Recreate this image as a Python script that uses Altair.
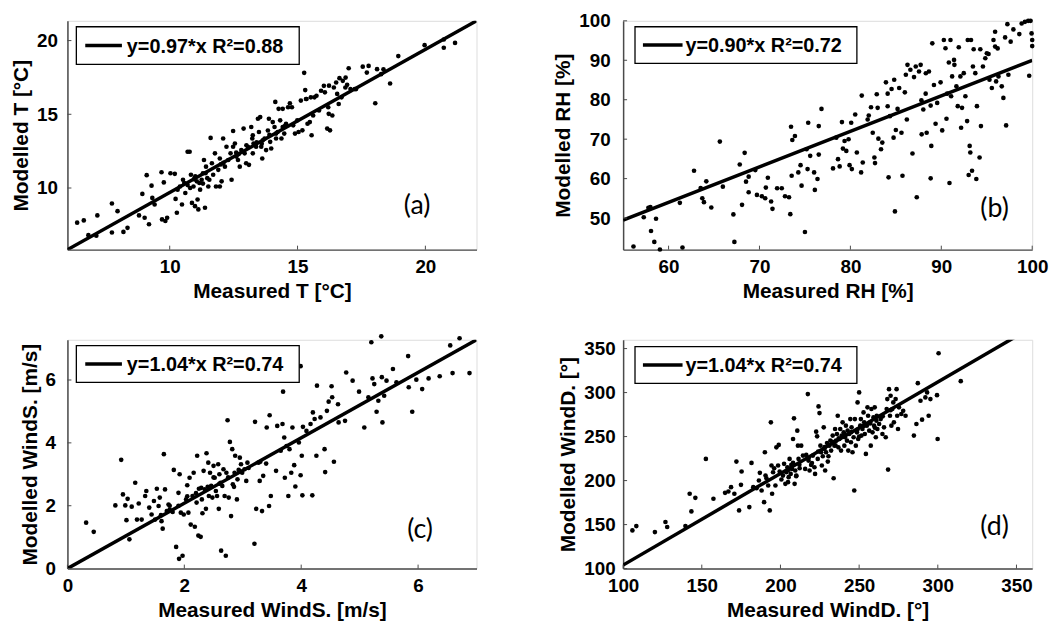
import altair as alt
import pandas as pd

FONT = "Liberation Sans"
W, H = 413, 231

# ---------------- Panel (a): temperature ----------------
a_meas = [6.38, 6.64, 6.82, 7.13, 7.17, 7.74, 7.74, 7.96, 8.19, 8.35, 8.8, 8.93, 9.02, 9.1, 9.19, 9.29, 9.32, 9.41,
          9.68, 9.7, 9.77, 9.83, 9.9, 10.03, 10.2, 10.23, 10.28, 10.31, 10.48, 10.52, 10.61, 10.7, 10.78, 10.83,
          10.87, 10.93, 10.99, 11.06, 11.09, 11.12, 11.19, 11.25, 11.34, 11.38, 11.42, 11.47, 11.51, 11.6, 11.65,
          11.7, 11.77, 11.81, 11.9, 11.96, 12.03, 12.09, 12.16, 12.22, 12.29, 12.38, 12.42, 12.48, 12.55, 12.61,
          12.67, 12.74, 12.8, 12.89, 12.93, 12.99, 13.06, 13.1, 13.19, 13.23, 13.28, 13.38, 13.45, 13.49, 13.54,
          13.58, 13.62, 13.64, 13.71, 13.77, 13.84, 13.88, 13.93, 13.97, 14.03, 14.1, 14.13, 14.16, 14.22, 14.26,
          14.32, 14.37, 14.42, 14.48, 14.55, 14.63, 14.7, 14.78, 14.83, 14.9, 14.99, 15.04, 15.13, 15.19, 15.26,
          15.3, 15.35, 15.39, 15.48, 15.55, 15.61, 15.66, 15.74, 15.84, 15.92, 16.03, 16.07, 16.16, 16.2, 16.22,
          16.27, 16.36, 16.42, 16.51, 16.55, 16.61, 16.64, 16.72, 16.77, 16.87, 16.94, 17.0, 17.07, 17.24, 17.55,
          17.71, 18.04, 18.11, 18.27, 18.62, 18.94, 19.97, 20.72, 20.72, 21.16,
          10.57, 10.8, 11.16, 11.55, 11.96, 12.48, 13.25, 14.16, 13.25, 10.4, 10.95, 11.3, 12.0, 12.7, 13.6,
          14.42, 15.33, 15.52, 16.23, 16.88, 17.29, 17.78, 18.36, 11.0, 11.4, 12.1, 12.6, 13.0, 13.4, 13.9,
          14.5, 10.7, 11.3]
a_mod = [7.65, 7.8, 6.8, 6.76, 8.14, 6.98, 8.95, 8.43, 7.02, 7.3, 8.14, 9.6, 7.98, 10.87, 7.54, 10.16, 9.33, 8.88,
         11.07, 7.87, 10.38, 7.76, 7.98, 11.0, 10.96, 9.26, 8.32, 9.89, 8.88, 10.56, 9.66, 12.46, 12.46, 10.9,
         8.99, 10.1, 8.77, 10.45, 9.22, 8.55, 9.89, 10.56, 11.9, 8.66, 11.45, 10.67, 10.1, 13.4, 11.68,
         10.9, 12.35, 10.1, 11.23, 12.0, 10.45, 13.36, 11.45, 12.8, 11.9, 12.35, 10.56, 13.87, 13.02, 12.13,
         11.9, 11.45, 12.57, 14.03, 12.35, 11.68, 12.8, 11.57, 14.14, 13.36, 13.02, 12.8, 14.7, 13.8, 14.81,
         12.8, 12.0, 13.24, 13.36, 12.57, 13.9, 14.7, 13.13, 12.68, 14.47, 14.14, 15.84, 13.36, 13.8, 15.37,
         14.59, 13.36, 14.14, 13.69, 14.36, 15.48, 15.75, 15.48, 14.25, 13.69, 14.59, 13.8, 15.93, 13.91, 17.81,
         16.64, 16.04, 14.36, 14.47, 13.58, 14.92, 16.15, 16.26, 15.26, 16.6, 16.93, 16.49, 14.03, 15.48, 15.03,
         13.91, 14.92, 16.82, 17.16, 16.38, 15.7, 17.45, 16.15, 17.27, 16.82, 17.0, 18.12, 16.71, 16.71, 18.23,
         17.83, 15.75, 18.06, 17.72, 17.09, 18.95, 19.69, 20.07, 19.51, 19.84,
         10.34, 10.0, 10.34, 10.56, 10.1, 12.8, 12.35, 13.69, 13.58, 10.1, 10.6, 11.0, 11.6, 12.3, 13.0,
         15.37, 16.04, 16.15, 16.94, 17.49, 16.71, 18.28, 18.05, 10.8, 11.0, 11.7, 12.4, 12.9, 13.1, 13.6,
         14.2, 10.2, 10.3]

# ---------------- Panel (b): relative humidity ----------------
b_meas = [56.14, 57.27, 57.78, 58.0, 58.07, 58.43, 58.62, 59.05, 61.24, 61.53, 62.8, 63.53, 63.71, 63.89, 64.15,
          64.7, 65.64, 65.97, 67.13, 67.24, 67.83, 68.08, 68.37, 68.52, 68.81, 68.81, 69.54, 69.72, 70.26, 70.63,
          70.7, 70.92, 71.28, 71.43, 71.94, 72.45, 72.81, 73.25, 73.39, 73.47, 73.54, 73.61, 73.9, 74.27, 74.52,
          74.63, 75.0, 75.18, 75.29, 75.36, 75.58, 76.01, 76.09, 76.38, 76.52, 76.52, 76.82, 78.09, 78.45, 78.64,
          78.82, 79.07, 79.18, 79.36, 79.55, 79.8, 79.91, 80.09, 80.16, 80.53, 80.71, 81.18, 81.25, 81.36, 82.02,
          82.27, 82.46, 82.64, 82.71, 83.0, 83.08, 83.37, 83.51, 83.91, 84.1, 84.2, 84.35, 84.53, 84.75, 84.82,
          84.9, 85.0, 85.19, 85.37, 85.62, 85.73, 85.99, 86.1, 86.21, 86.28, 86.83, 87.0, 87.19, 87.3, 87.55,
          87.73, 87.81, 87.84, 88.02, 88.28, 88.39, 88.64, 88.83, 88.83, 88.9, 89.01, 89.19, 89.37, 89.55, 89.92,
          90.1, 90.28, 90.46, 90.57, 90.65, 90.83, 90.9, 91.01, 91.08, 91.19, 91.44, 91.66, 91.81, 91.92, 92.1,
          92.18, 92.28, 92.47, 92.65, 92.84, 92.91, 93.01, 93.12, 93.19, 93.27, 93.38, 93.48, 93.56, 93.74, 93.85,
          93.92, 94.21, 94.29, 94.36, 94.58, 94.84, 95.01, 95.3, 95.56, 95.74, 95.92, 95.92, 96.03, 96.29, 96.65,
          96.83, 97.02, 97.13, 97.27, 97.38, 97.63, 97.93, 98.58, 98.84, 99.2, 99.56, 99.67, 99.82, 99.93, 100.0,
          100.0, 84.1, 81.9, 88.3, 86.6, 82.9, 91.4, 95.2, 96.2]
b_mod = [42.8, 50.2, 52.6, 52.77, 46.73, 43.96, 49.83, 42.03, 53.86, 42.53, 62.0, 57.63, 55.03, 54.03, 59.31,
         52.68, 69.38, 57.97, 50.92, 43.96, 63.59, 53.36, 66.53, 59.23, 60.49, 56.54, 62.16, 55.87, 55.54, 55.03,
         57.72, 60.23, 54.19, 52.35, 57.55, 57.55, 55.54, 55.29, 51.0, 73.15, 60.74, 69.8, 70.81, 61.58, 63.42,
         58.22, 46.48, 67.45, 62.42, 74.16, 65.77, 61.58, 57.13, 59.9, 73.32, 66.1, 77.68, 62.58, 70.39, 64.93,
         63.09, 74.33, 67.62, 69.55, 67.03, 69.97, 63.42, 74.16, 62.42, 76.26, 66.61, 61.58, 81.04, 64.09, 76.0,
         78.1, 71.64, 65.35, 63.93, 77.94, 70.13, 67.45, 69.13, 84.4, 81.54, 60.32, 75.84, 82.72, 70.39, 85.07,
         51.68, 72.32, 77.68, 82.97, 71.64, 60.74, 81.88, 86.33, 75.0, 88.84, 66.36, 85.74, 88.42, 55.29, 87.16,
         88.84, 79.87, 71.22, 77.52, 81.54, 71.64, 87.16, 78.52, 60.07, 68.29, 94.3, 83.72, 73.91, 79.19, 84.4,
         72.23, 95.13, 93.04, 75.17, 81.54, 89.43, 58.89, 95.13, 80.87, 85.91, 88.84, 83.39, 78.36, 93.29, 85.91,
         72.9, 77.94, 86.74, 80.87, 74.58, 95.13, 60.91, 68.29, 66.61, 95.13, 62.0, 88.42, 92.79, 86.74, 59.9,
         78.36, 65.35, 92.79, 73.32, 88.42, 90.52, 91.78, 85.07, 82.97, 95.13, 97.23, 93.46, 84.65, 85.91, 83.39,
         80.45, 95.8, 73.49, 99.16, 86.33, 94.72, 97.82, 96.64, 99.33, 99.75, 100.0, 86.07, 100.0, 96.8, 95.13,
         93.6, 78.35, 75.0, 86.7, 87.6, 81.4, 90.1, 91.6, 93.0]

# ---------------- Panel (c): wind speed ----------------
c_meas = [0.32, 0.45, 0.82, 0.92, 0.95, 0.99, 1.01, 1.03, 1.06, 1.1, 1.16, 1.19, 1.22, 1.27, 1.33, 1.35, 1.4, 1.44,
          1.48, 1.5, 1.53, 1.56, 1.58, 1.61, 1.63, 1.65, 1.67, 1.7, 1.73, 1.75, 1.8, 1.82, 1.86, 1.9, 1.91, 1.92,
          1.94, 1.97, 1.99, 2.03, 2.05, 2.07, 2.09, 2.11, 2.14, 2.16, 2.18, 2.21, 2.22, 2.24, 2.25, 2.28, 2.29,
          2.31, 2.33, 2.35, 2.37, 2.38, 2.41, 2.42, 2.44, 2.46, 2.48, 2.5, 2.52, 2.54, 2.56, 2.58, 2.59, 2.6,
          2.62, 2.63, 2.65, 2.67, 2.69, 2.71, 2.72, 2.74, 2.76, 2.78, 2.8, 2.82, 2.83, 2.86, 2.87, 2.9, 2.91,
          2.93, 2.95, 2.97, 2.99, 3.03, 3.06, 3.08, 3.2, 3.21, 3.23, 3.27, 3.29, 3.33, 3.35, 3.4, 3.41, 3.45,
          3.46, 3.48, 3.57, 3.59, 3.68, 3.69, 3.71, 3.72, 3.75, 3.78, 3.8, 3.83, 3.85, 3.88, 3.9, 3.96, 3.99,
          4.01, 4.02, 4.03, 4.09, 4.16, 4.19, 4.2, 4.23, 4.26, 4.27, 4.33, 4.4, 4.41, 4.44, 4.47, 4.52, 4.53,
          4.56, 4.63, 4.64, 4.75, 4.77, 4.88, 4.99, 5.08, 5.15, 5.2, 5.22, 5.25, 5.29, 5.32, 5.37, 5.38, 5.39,
          5.42, 5.46, 5.57, 5.63, 5.83, 5.84, 5.9, 5.97, 6.07, 6.18, 6.37, 6.55, 6.59, 6.71, 6.88, 3.99,
          1.6, 1.9, 2.2, 2.4, 2.6, 2.75, 2.95, 3.1, 2.3, 2.5, 1.75, 2.05, 3.3, 3.65, 2.85]
c_mod = [1.46, 1.17, 2.01, 3.46, 2.36, 2.01, 1.54, 2.22, 0.93, 1.97, 2.73, 1.56, 2.07, 1.56, 2.31, 2.47, 1.94, 1.72,
         2.15, 1.56, 2.54, 1.99, 2.26, 1.51, 1.27, 3.64, 2.52, 1.83, 2.04, 1.88, 1.8, 3.14, 0.69, 2.41, 0.31, 3.0,
         1.78, 0.41, 1.72, 2.2, 2.65, 1.78, 2.89, 1.4, 2.31, 3.05, 1.33, 2.1, 3.59, 1.05, 2.54, 1.01, 2.57,
         1.76, 3.11, 2.52, 1.9, 3.67, 3.37, 2.31, 3.05, 2.63, 2.26, 3.27, 2.89, 2.47, 2.31, 3.32, 1.9, 3.0,
         2.73, 0.57, 2.63, 3.16, 2.31, 0.41, 3.05, 4.72, 2.26, 4.03, 1.67, 3.8, 2.68, 3.05, 3.59, 2.2, 2.84,
         3.14, 3.53, 3.32, 3.05, 3.16, 2.79, 3.37, 0.79, 4.67, 1.9, 3.37, 2.79, 1.83, 2.95, 3.34, 4.49, 1.99,
         4.88, 2.31, 3.11, 4.54, 4.6, 5.63, 4.17, 2.89, 3.9, 2.31, 3.8, 3.05, 4.49, 3.29, 2.61, 4.01, 2.97,
         3.59, 2.33, 4.51, 4.38, 4.6, 2.33, 4.97, 4.76, 3.59, 5.82, 4.81, 3.8, 3.07, 5.02, 5.31, 5.8, 5.45,
         3.4, 5.23, 4.65, 4.7, 6.24, 5.98, 5.63, 4.49, 5.45, 7.2, 6.05, 5.87, 4.99, 5.34, 7.39, 6.09, 4.65,
         5.5, 5.98, 6.35, 5.93, 6.76, 5.77, 4.99, 6.01, 5.71, 6.05, 6.12, 7.1, 6.22, 7.33, 6.22, 6.44,
         1.7, 2.0, 2.4, 2.6, 2.7, 2.9, 3.1, 3.2, 2.2, 2.9, 2.0, 2.3, 3.4, 3.75, 2.6]

# ---------------- Panel (d): wind direction ----------------
d_meas = [105.9, 108.4, 120.2, 126.9, 128.0, 139.6, 142.3, 143.4, 145.9, 152.6, 157.4, 164.8, 166.9, 168.6, 170.7,
          172.0, 173.7, 174.9, 175.3, 180.2, 181.6, 182.7, 184.8, 186.3, 186.9, 188.0, 189.6, 190.1, 190.5, 191.1,
          192.2, 193.2, 193.9, 194.3, 194.7, 195.3, 196.0, 196.8, 197.4, 198.5, 198.9, 199.5, 200.6, 201.6, 202.3,
          203.1, 203.7, 204.4, 204.8, 205.2, 205.8, 206.5, 206.9, 207.3, 208.0, 208.0, 208.6, 209.0, 209.4, 210.1,
          210.7, 211.1, 211.5, 212.2, 213.2, 214.3, 215.7, 216.4, 217.4, 217.8, 218.5, 219.5, 220.6, 221.6, 222.0,
          222.7, 223.3, 223.7, 224.2, 224.8, 225.4, 225.8, 226.3, 226.9, 227.5, 228.0, 228.4, 229.0, 229.6, 230.1,
          230.5, 231.1, 231.7, 232.2, 233.2, 233.8, 234.3, 234.7, 235.3, 235.9, 236.4, 236.8, 237.4, 238.0, 238.5,
          238.9, 239.5, 240.2, 240.6, 241.0, 241.6, 242.3, 242.7, 243.1, 243.7, 244.4, 244.8, 245.2, 245.8, 246.5,
          246.9, 247.3, 247.9, 248.6, 249.0, 249.4, 250.0, 250.7, 251.1, 251.5, 252.1, 252.8, 253.2, 253.6, 254.3,
          254.9, 255.3, 255.7, 256.4, 257.0, 257.4, 257.8, 258.5, 259.1, 259.5, 259.9, 260.6, 261.2, 261.6, 262.7,
          263.7, 264.8, 265.8, 266.9, 267.5, 267.9, 268.4, 269.0, 269.6, 270.0, 270.5, 271.1, 271.7, 272.1, 273.2,
          273.8, 274.2, 274.7, 275.3, 276.8, 278.0, 279.5, 284.8, 286.4, 287.3, 289.0, 290.0, 292.1, 293.2, 294.2,
          295.3, 299.5, 299.9, 300.5, 314.6,
          205.0, 212.0, 218.0, 224.0, 228.0, 233.0, 237.0, 241.0, 245.0, 249.0, 253.0, 257.0, 261.0, 265.0,
          210.0, 220.0, 235.0, 250.0, 260.0, 270.0]
d_mod = [143.4, 148.3, 141.5, 152.9, 147.2, 148.3, 185.0, 165.0, 180.4, 224.6, 179.3, 186.1, 187.6, 192.5, 185.0,
         221.6, 166.1, 195.2, 210.3, 169.9, 220.1, 192.5, 191.4, 200.1, 208.8, 188.7, 175.5, 232.2, 205.7, 202.7,
         194.4, 166.1, 266.2, 217.1, 185.0, 209.5, 214.0, 194.4, 237.8, 217.1, 240.5, 210.3, 201.2, 205.7, 219.0,
         196.3, 209.5, 215.2, 198.2, 203.9, 224.6, 207.6, 217.8, 213.3, 220.1, 247.3, 270.7, 196.3, 211.4, 205.7,
         256.7, 239.7, 224.6, 214.0, 239.7, 228.4, 213.3, 229.2, 298.3, 222.7, 211.4, 217.8, 228.4, 215.2, 207.6,
         255.6, 250.3, 224.6, 284.3, 276.7, 239.7, 232.2, 217.1, 227.6, 260.5, 235.9, 211.4, 232.2, 242.7, 221.6,
         227.6, 239.7, 245.4, 234.1, 251.1, 202.7, 239.7, 258.6, 245.4, 252.9, 273.7, 237.8, 247.3, 258.6, 234.1,
         251.1, 266.2, 254.8, 239.7, 249.2, 262.4, 245.4, 256.7, 234.1, 252.9, 269.9, 243.5, 260.5, 232.2, 249.2,
         188.7, 269.9, 239.7, 254.8, 288.8, 247.3, 300.2, 262.4, 269.9, 251.1, 258.6, 277.5, 266.2, 252.9, 230.3,
         262.4, 283.2, 273.7, 256.7, 266.2, 239.7, 281.3, 254.8, 271.8, 262.4, 283.2, 249.2, 273.7, 258.6, 264.3,
         269.9, 252.9, 260.5, 249.2, 281.3, 292.6, 212.5, 303.9, 273.7, 296.4, 262.4, 281.3, 288.8, 266.2, 292.6,
         303.9, 273.7, 258.6, 283.2, 275.6, 279.4, 273.7, 251.1, 264.3, 310.7, 290.7, 269.2, 294.5, 300.2, 273.7,
         292.6, 297.1, 247.3, 344.7, 313.0,
         212.0, 218.0, 226.0, 233.0, 238.0, 244.0, 248.0, 252.0, 255.0, 258.0, 262.0, 265.0, 268.0, 273.0,
         205.0, 220.0, 240.0, 250.0, 260.0, 280.0]

# fitted lines (end points)
a_fit_x = [6.0, 22.0]
a_fit_y = [5.82, 21.34]
b_fit_x = [55.0, 100.0]
b_fit_y = [49.5, 90.0]
c_fit_x = [0.0, 7.0]
c_fit_y = [0.0, 7.28]
d_fit_x = [100.0, 360.0]
d_fit_y = [104.0, 374.4]

legend_labels = ["y=0.97*x R²=0.88", "y=0.90*x R²=0.72", "y=1.04*x R²=0.74", "y=1.04*x R²=0.74"]
tags = ["(a)", "(b)", "(c)", "(d)"]


def panel(mx, my, fx, fy, xdom, ydom, xticks, yticks, xtitle, ytitle, leg, tag,
          box, line_x, text_x, tag_xy, ylab_pad):
    xs = alt.Scale(domain=xdom, nice=False, zero=False)
    ys = alt.Scale(domain=ydom, nice=False, zero=False)
    common = dict(labelFont=FONT, labelFontSize=19, labelFontWeight="bold", labelColor="black",
                  titleFont=FONT, titleFontSize=21, titleFontWeight="bold", titleColor="black",
                  grid=False, ticks=False, tickSize=0, domainColor="#4a4a4a", domainWidth=1.5,
                  labelFlush=False, labelOverlap=False)
    xax = alt.Axis(values=xticks, title=xtitle, labelPadding=8, titlePadding=4, **common)
    yax = alt.Axis(values=yticks, title=ytitle, labelPadding=ylab_pad, titlePadding=5, **common)
    X = alt.X("x:Q", scale=xs, axis=xax)
    Y = alt.Y("y:Q", scale=ys, axis=yax)
    pts = alt.Chart(pd.DataFrame({"x": mx, "y": my})).mark_circle(
        size=22, color="black", opacity=1).encode(x=X, y=Y)
    fit = alt.Chart(pd.DataFrame({"x": fx, "y": fy})).mark_line(
        color="black", strokeWidth=3.5, clip=True).encode(x=X, y=Y)
    xt = alt.Chart(pd.DataFrame({"x": xticks})).mark_rule(color="#4a4a4a", strokeWidth=1).encode(
        x=X, y=alt.value(H), y2=alt.value(H - 4))
    yt = alt.Chart(pd.DataFrame({"y": yticks})).mark_rule(color="#4a4a4a", strokeWidth=1).encode(
        y=Y, x=alt.value(0), x2=alt.value(4))
    one = pd.DataFrame({"t": [leg], "g": [tag]})
    lbox = alt.Chart(one).mark_rect(fill="white", stroke="black", strokeWidth=1.3).encode(
        x=alt.value(box[0]), x2=alt.value(box[1]), y=alt.value(box[2]), y2=alt.value(box[3]))
    ymid = (box[2] + box[3]) / 2
    lline = alt.Chart(one).mark_rule(color="black", strokeWidth=3.5).encode(
        x=alt.value(line_x[0]), x2=alt.value(line_x[1]), y=alt.value(ymid))
    ltext = alt.Chart(one).mark_text(
        align="left", baseline="middle", font=FONT, fontSize=20, fontWeight="bold", color="black").encode(
        x=alt.value(text_x), y=alt.value(ymid + 1), text="t:N")
    ttext = alt.Chart(one).mark_text(
        align="center", baseline="middle", font="Lato", fontSize=27, color="black").encode(
        x=alt.value(tag_xy[0]), y=alt.value(tag_xy[1]), text="g:N")
    return alt.layer(pts, fit, xt, yt, lbox, lline, ltext, ttext).properties(width=W, height=H)


pa = panel(a_meas, a_mod, a_fit_x, a_fit_y, [6, 22], [5.82, 21.34], [10, 15, 20], [10, 15, 20],
           "Measured T [°C]", "Modelled T [°C]", legend_labels[0], tags[0],
           (9, 234, 6, 44), (18, 55), 60, (353, 187), 10)
pb = panel(b_meas, b_mod, b_fit_x, b_fit_y, [55, 100], [42, 100], [60, 70, 80, 90, 100],
           [50, 60, 70, 80, 90, 100], "Measured RH [%]", "Modelled RH [%]", legend_labels[1], tags[1],
           (12, 236, 6, 43), (20, 60), 63, (375, 190), 13)
pc = panel(c_meas, c_mod, c_fit_x, c_fit_y, [0, 7], [0, 7.28], [0, 2, 4, 6], [0, 2, 4, 6],
           "Measured WindS. [m/s]", "Modelled WindS. [m/s]", legend_labels[2], tags[2],
           (9, 234, 6, 43), (18, 55), 60, (356, 192), 12)
pd_ = panel(d_meas, d_mod, d_fit_x, d_fit_y, [100, 360], [100, 360], [100, 150, 200, 250, 300, 350],
            [100, 150, 200, 250, 300, 350], "Measured WindD. [°]", "Modelled WindD. [°]",
            legend_labels[3], tags[3], (12, 236, 7, 44), (20, 60), 63, (375, 189), 8)

chart = alt.concat(pa, pb, pc, pd_, columns=2, spacing={"row": 31, "column": 75}).properties(
    align="each", padding={"top": 0, "left": 2, "right": 5, "bottom": 0}
).configure_view(strokeWidth=0).configure(background="white")

chart.save("out.html", embed_options={"renderer": "svg", "actions": False})
